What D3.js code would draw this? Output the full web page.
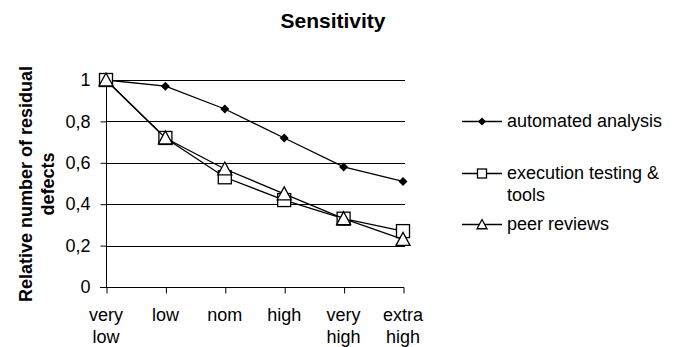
<!DOCTYPE html>
<html>
<head>
<meta charset="utf-8">
<script src="https://cdn.jsdelivr.net/npm/d3@7"></script>
<style>
  body { margin: 0; background: #fff; }
  text { font-family: "Liberation Sans", Arial, sans-serif; fill: #000; }
</style>
</head>
<body>
<svg id="chart" width="681" height="347"></svg>
<script>
var categories = [["very", "low"], ["low"], ["nom"], ["high"], ["very", "high"], ["extra", "high"]];
var automated = [1, 0.97, 0.86, 0.72, 0.58, 0.51];
var execution = [1, 0.72, 0.53, 0.42, 0.33, 0.27];
var peer = [1, 0.72, 0.57, 0.45, 0.33, 0.23];
var yTicks = [0, 0.2, 0.4, 0.6, 0.8, 1];
var seriesNames = [["automated analysis"], ["execution testing &", "tools"], ["peer reviews"]];

var svg = d3.select("#chart");
var plotLeft = 106, plotRight = 403, plotTop = 80, plotBottom = 287;
var fontSize = 18;

var x = d3.scalePoint()
  .domain(d3.range(categories.length))
  .range([plotLeft, plotRight]);

var y = d3.scaleLinear()
  .domain([0, 1])
  .range([plotBottom, plotTop]);

var fmt = function(d){ return d === 0 || d === 1 ? String(d) : String(d).replace(".", ","); };

// title
svg.append("text")
  .attr("x", 333)
  .attr("y", 28)
  .attr("text-anchor", "middle")
  .attr("font-weight", "bold")
  .attr("font-size", "21px")
  .text("Sensitivity");

// y axis title
var yTitle = svg.append("text")
  .attr("transform", "translate(32,184) rotate(-90)")
  .attr("text-anchor", "middle")
  .attr("font-weight", "bold")
  .attr("font-size", fontSize + "px");
yTitle.append("tspan").attr("x", 0).attr("y", 0).text("Relative number of residual");
yTitle.append("tspan").attr("x", 0).attr("y", 22).text("defects");

// gridlines
svg.append("g")
  .selectAll("line")
  .data(yTicks.filter(function(d){ return d > 0; }))
  .join("line")
  .attr("x1", plotLeft)
  .attr("x2", plotRight + 2)
  .attr("y1", function(d){ return Math.round(y(d)) + 0.5; })
  .attr("y2", function(d){ return Math.round(y(d)) + 0.5; })
  .attr("stroke", "#000")
  .attr("stroke-width", 1);

// y axis
var yAxis = svg.append("g")
  .attr("transform", "translate(" + (plotLeft + 0.5) + ",0)")
  .call(d3.axisLeft(y).tickValues(yTicks).tickSize(6).tickPadding(10).tickFormat(fmt));
yAxis.selectAll("text").attr("font-size", fontSize + "px").attr("font-family", "Liberation Sans, Arial, sans-serif");
yAxis.selectAll("path, line").attr("stroke", "#000");
yAxis.select(".domain").attr("d", "M0," + (plotBottom + 0.5) + "V" + plotTop);

// x axis
var xAxis = svg.append("g")
  .attr("transform", "translate(0," + (plotBottom + 0.5) + ")")
  .call(d3.axisBottom(x).tickSize(6).tickFormat(""));
xAxis.selectAll("path, line").attr("stroke", "#000");
xAxis.select(".domain").attr("d", "M" + (plotLeft - 6) + ",0H" + (plotRight + 1));
xAxis.selectAll(".tick line").attr("transform", "translate(0.5,0)");

svg.append("g")
  .selectAll("text")
  .data(categories)
  .join("text")
  .attr("text-anchor", "middle")
  .attr("font-size", fontSize + "px")
  .each(function(d, i){
    var t = d3.select(this);
    d.forEach(function(s, k){
      t.append("tspan").attr("x", x(i)).attr("y", 321 + k * 22).text(s);
    });
  });

// series
var line = d3.line()
  .x(function(d, i){ return x(i); })
  .y(function(d){ return y(d); });

function diamond(g, cx, cy, r){
  g.append("path")
    .attr("d", "M" + cx + "," + (cy - r) + "L" + (cx + r) + "," + cy + "L" + cx + "," + (cy + r) + "L" + (cx - r) + "," + cy + "Z")
    .attr("fill", "#000");
}
function square(g, cx, cy, r){
  g.append("rect")
    .attr("x", cx - r).attr("y", cy - r)
    .attr("width", 2 * r).attr("height", 2 * r)
    .attr("fill", "#fff").attr("stroke", "#000").attr("stroke-width", 1.3);
}
function triangle(g, cx, cy, r){
  g.append("path")
    .attr("d", "M" + cx + "," + (cy - r) + "L" + (cx + r) + "," + (cy + r * 0.85) + "L" + (cx - r) + "," + (cy + r * 0.85) + "Z")
    .attr("fill", "#fff").attr("stroke", "#000").attr("stroke-width", 1.3);
}

var series = [
  { values: automated, marker: diamond, size: 4.5, legendSize: 4 },
  { values: execution, marker: square, size: 6.5, legendSize: 4.5 },
  { values: peer, marker: triangle, size: 7, legendSize: 5 }
];

series.forEach(function(s){
  var g = svg.append("g");
  g.append("path")
    .datum(s.values)
    .attr("d", line)
    .attr("fill", "none")
    .attr("stroke", "#000")
    .attr("stroke-width", 1.3);
  s.values.forEach(function(v, i){
    s.marker(g, x(i), y(v), s.size);
  });
});

// legend
var legendY = [121, 173, 224];
var legend = svg.append("g");
series.forEach(function(s, i){
  var ly = legendY[i];
  legend.append("line")
    .attr("x1", 462).attr("x2", 502)
    .attr("y1", ly + 0.5).attr("y2", ly + 0.5)
    .attr("stroke", "#000").attr("stroke-width", 1.3);
  s.marker(legend, 482, ly + 0.5, s.legendSize);
  var t = legend.append("text").attr("font-size", fontSize + "px");
  seriesNames[i].forEach(function(n, k){
    t.append("tspan").attr("x", 507).attr("y", ly + 6 + k * 22).text(n);
  });
});
</script>
</body>
</html>
